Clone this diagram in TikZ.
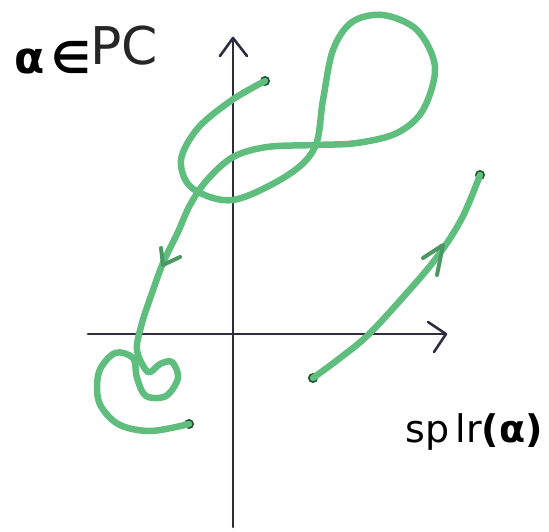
\documentclass[tikz,border=0pt]{standalone}
\usepackage{fontspec}
\setmainfont{DejaVu Sans}
\begin{document}
\begin{tikzpicture}[x=1pt,y=-1pt,
  axis/.style={draw=axiscol,line width=2.6pt,line cap=round,line join=round},
  pen/.style={draw=pencol,line width=6.5pt,line cap=round,line join=round},
  tip/.style={draw=pencol!80!black,line width=4pt,line cap=round,line join=round},
  enddot/.style={circle,fill=dotcol,inner sep=0pt,minimum size=10pt},
  lbl/.style={inner sep=0pt,text=black}]
\definecolor{axiscol}{RGB}{45,45,65}
\definecolor{pencol}{RGB}{95,190,125}
\definecolor{dotcol}{RGB}{30,80,45}
\useasboundingbox[fill=white] (0,0) rectangle (549,531);
% axes
\coordinate (yb) at (233,527);
\coordinate (yt) at (233,38);
\coordinate (xl) at (88,334);
\coordinate (xr) at (446,334);
\draw[axis] (yb) -- (yt);
\draw[axis] (220,56) -- (yt) -- (247,56);
\draw[axis] (xl) -- (xr);
\draw[axis] (428,322) -- (xr) -- (434,352);
% main curve
\node[enddot] (s1) at (265,81) {};
\node[enddot] (e1) at (189,424) {};
\draw[pen] plot[smooth,tension=0.55] coordinates {
 (265,81) (232,100) (198,128) (181,160) (192,188) (233,200) (288,175) (315,147)
 (323,100) (333,50) (352,22) (383,15) (417,30) (435,67) (423,110) (397,133)
 (357,143) (315,145) (267,147) (233,157) (207,180) (190,205) (178,232) (163,263)
 (152,293) (142,323) (137,350) (148,372) (160,364) (172,362) (178,378) (166,396)
 (146,396) (137,378) (133,358) (115,353) (99,372) (99,402) (118,424) (150,431) (189,424)};
\draw[tip] (161,248) -- (163,265) -- (180,257);
% right curve
\node[enddot] (s2) at (313,378) {};
\node[enddot] (e2) at (480,175) {};
\draw[pen] plot[smooth,tension=0.6] coordinates {
 (313,378) (340,358) (368,335) (405,295) (437,257) (462,218) (480,175)};
\draw[tip] (423,258) -- (443,245) -- (437,275);
% labels
\node[lbl,font=\bfseries\fontsize{44}{44}\selectfont,anchor=west] (la) at (14,58) {α\,∈};
\node[lbl,font=\fontsize{52}{52}\selectfont,text=black!85,anchor=west] (lp) at (90,46) {PC};
\node[lbl,font=\fontsize{38}{38}\selectfont,anchor=east] (ls) at (543,432) {sp\,lr\textbf{(α)}};
\end{tikzpicture}
\end{document}
